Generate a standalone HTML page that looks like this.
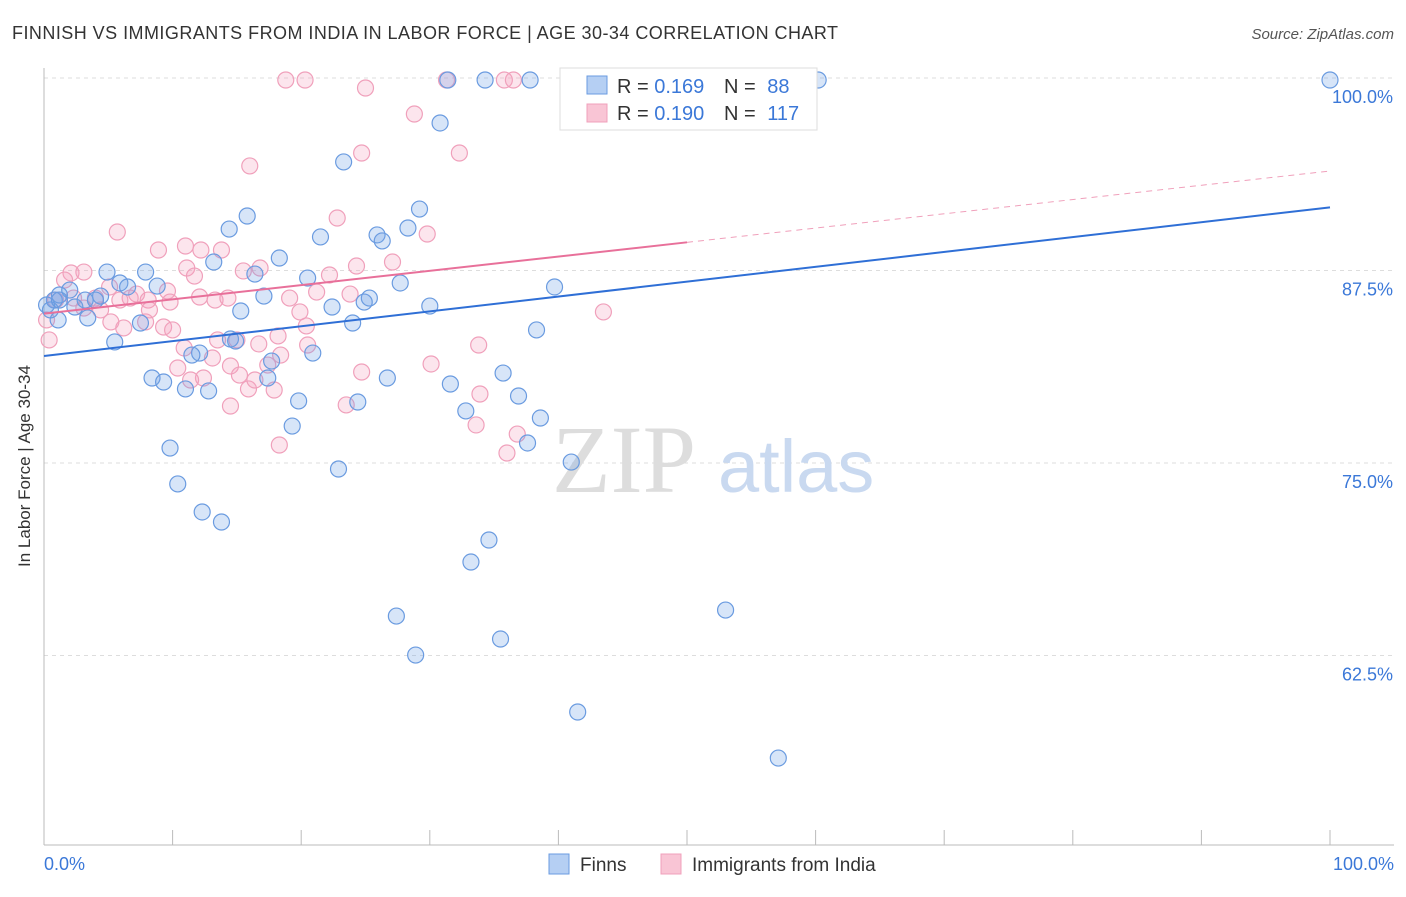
<!DOCTYPE html>
<html><head><meta charset="utf-8"><style>
body{margin:0;background:#fff;font-family:"Liberation Sans",sans-serif;}
svg text{font-family:"Liberation Sans",sans-serif;}
</style></head><body>
<svg id="chart" width="1406" height="892" xmlns="http://www.w3.org/2000/svg">
<text x="12" y="39" font-size="18" fill="#333" textLength="826">FINNISH VS IMMIGRANTS FROM INDIA IN LABOR FORCE | AGE 30-34 CORRELATION CHART</text>
<text x="1394" y="39" font-size="15" fill="#555" font-style="italic" text-anchor="end">Source: ZipAtlas.com</text>
<g id="grid"></g>
<g><text x="552" y="492" font-size="96" fill="#ddd" font-family="Liberation Serif" style="font-family:'Liberation Serif',serif">ZIP</text><text x="718" y="492" font-size="74" fill="#c9d9f0">atlas</text></g>
<line x1="44" y1="68" x2="44" y2="845" stroke="#bbb"/>
<line x1="44" y1="845" x2="1394" y2="845" stroke="#bbb"/>
<g id="ticks"></g>
<g id="pts"></g>
<g id="trends"></g>
<text x="22" y="458" font-size="17" fill="#333" transform="rotate(-90 30 458)" text-anchor="middle">In Labor Force | Age 30-34</text>
<text x="44" y="870" font-size="18" fill="#3b78d8">0.0%</text>
<text x="1394" y="870" font-size="18" fill="#3b78d8" text-anchor="end">100.0%</text>
<g>
<rect x="560" y="68" width="257" height="62" fill="#fff" stroke="#ddd"/>
<rect x="587" y="76" width="20" height="18" fill="#b5cff3" stroke="#6a9be0"/>
<text x="617" y="93" font-size="20" fill="#333">R = <tspan fill="#3b78d8">0.169</tspan></text>
<text x="724" y="93" font-size="20" fill="#333">N = <tspan fill="#3b78d8" dx="6">88</tspan></text>
<rect x="587" y="104" width="20" height="18" fill="#f9c5d5" stroke="#f0a0bb"/>
<text x="617" y="120" font-size="20" fill="#333">R = <tspan fill="#3b78d8">0.190</tspan></text>
<text x="724" y="120" font-size="20" fill="#333">N = <tspan fill="#3b78d8" dx="6">117</tspan></text>
</g>
<g>
<rect x="549" y="854" width="20" height="20" fill="#b5cff3" stroke="#6a9be0"/>
<text x="580" y="871" font-size="19" fill="#333">Finns</text>
<rect x="661" y="854" width="20" height="20" fill="#f9c5d5" stroke="#f0a0bb"/>
<text x="692" y="871" font-size="19" fill="#333">Immigrants from India</text>
</g>
</svg>
<script>
const yTicks=[100,87.5,75,62.5];
const yTickLabels=["100.0%","87.5%","75.0%","62.5%"];
const finnsPx=[[1330,80],[818,80],[530,80],[485,80],[448,80],[440,123],[343,162],[247,216],[229,229],[214,262],[320,237],[377,235],[382,241],[408,228],[420,209],[279,258],[307,278],[332,307],[370,298],[364,302],[400,283],[430,306],[554,287],[537,330],[352,323],[264,296],[241,311],[255,274],[146,272],[107,272],[120,283],[157,286],[128,287],[100,296],[54,300],[60,295],[75,307],[88,318],[115,342],[141,323],[231,339],[236,341],[200,353],[192,355],[272,361],[268,378],[313,353],[152,378],[164,382],[186,389],[208,391],[299,401],[292,426],[358,402],[388,378],[451,384],[466,411],[503,373],[519,396],[541,418],[527,443],[571,462],[338,469],[170,448],[178,484],[202,512],[222,522],[489,540],[471,562],[725,610],[396,616],[501,639],[416,655],[578,712],[778,758],[50,310],[47,305],[70,290],[85,300],[95,300],[60,300],[58,320]];
const indiaPx=[[286,80],[305,80],[366,88],[446,80],[505,80],[513,80],[570,80],[600,80],[414,114],[362,153],[459,153],[250,166],[337,218],[427,234],[117,232],[159,250],[186,246],[201,250],[222,250],[392,262],[356,266],[329,275],[260,268],[243,271],[187,268],[195,276],[84,272],[71,273],[64,280],[110,287],[137,294],[167,291],[200,297],[215,300],[228,298],[170,302],[148,300],[130,298],[95,298],[73,298],[56,300],[290,298],[350,294],[317,292],[300,312],[603,312],[111,322],[124,328],[146,322],[164,327],[173,330],[184,348],[212,358],[218,340],[237,340],[259,344],[278,336],[281,355],[308,345],[268,365],[306,326],[178,368],[204,378],[230,366],[249,389],[274,390],[231,406],[346,405],[361,372],[431,364],[479,345],[480,394],[476,425],[517,434],[507,453],[279,445],[49,340],[47,320],[150,310],[120,300],[100,310],[84,308],[190,380],[240,375],[255,380]];
const finnsX=finnsPx.map(p=>+((p[0]-44)/12.86).toFixed(1));
const finnsY=finnsPx.map(p=>+(100-(p[1]-78)/15.4).toFixed(2));
const indiaX=indiaPx.map(p=>+((p[0]-44)/12.86).toFixed(1));
const indiaY=indiaPx.map(p=>+(100-(p[1]-78)/15.4).toFixed(2));
const finnsTrend=[81.95,91.6];
const indiaTrend=[84.7,93.96];
const X=v=>44+v*12.86, Y=v=>78+(100-v)*15.4;
const NS="http://www.w3.org/2000/svg";
const mk=(t,a,p)=>{const e=document.createElementNS(NS,t);for(const k in a)e.setAttribute(k,a[k]);p.appendChild(e);return e;};
const grid=document.getElementById('grid');
yTicks.forEach((t,i)=>{
 const l=mk('line',{x1:44,x2:1394,y1:Y(t),y2:Y(t),stroke:'#ddd','stroke-dasharray':'4,4'},grid);
 
 
 const tx=mk('text',{x:1393,y:Y(t)+25,'font-size':18,fill:'#3b78d8','text-anchor':'end'},grid);
 tx.textContent=yTickLabels[i];
 
 
});
const tk=document.getElementById('ticks');
for(let i=0;i<=10;i++){const l=mk('line',{x1:X(i*10),x2:X(i*10),y1:830,y2:845,stroke:'#bbb'},tk);
 
 }
const pts=document.getElementById('pts');
indiaX.forEach((x,i)=>{const c=mk('circle',{cx:X(x),cy:Y(indiaY[i]),r:8,fill:'rgba(244,160,190,0.28)',stroke:'#f0a0bb','stroke-width':1.2},pts);
 
 });
finnsX.forEach((x,i)=>{const c=mk('circle',{cx:X(x),cy:Y(finnsY[i]),r:8,fill:'rgba(110,160,230,0.28)',stroke:'#6a9be0','stroke-width':1.2},pts);
 
 });
const tr=document.getElementById('trends');
const fl=mk('line',{x1:X(0),y1:Y(finnsTrend[0]),x2:X(100),y2:Y(finnsTrend[1]),stroke:'#2f6fd6','stroke-width':2},tr);


const iy=v=>indiaTrend[0]+(indiaTrend[1]-indiaTrend[0])*v/100;
const il=mk('line',{x1:X(0),y1:Y(iy(0)),x2:X(50),y2:Y(iy(50)),stroke:'#e8709a','stroke-width':2},tr);


const id=mk('line',{x1:X(50),y1:Y(iy(50)),x2:X(100),y2:Y(iy(100)),stroke:'#f0a0bb','stroke-width':1,'stroke-dasharray':'6,5'},tr);


</script>
</body></html>
